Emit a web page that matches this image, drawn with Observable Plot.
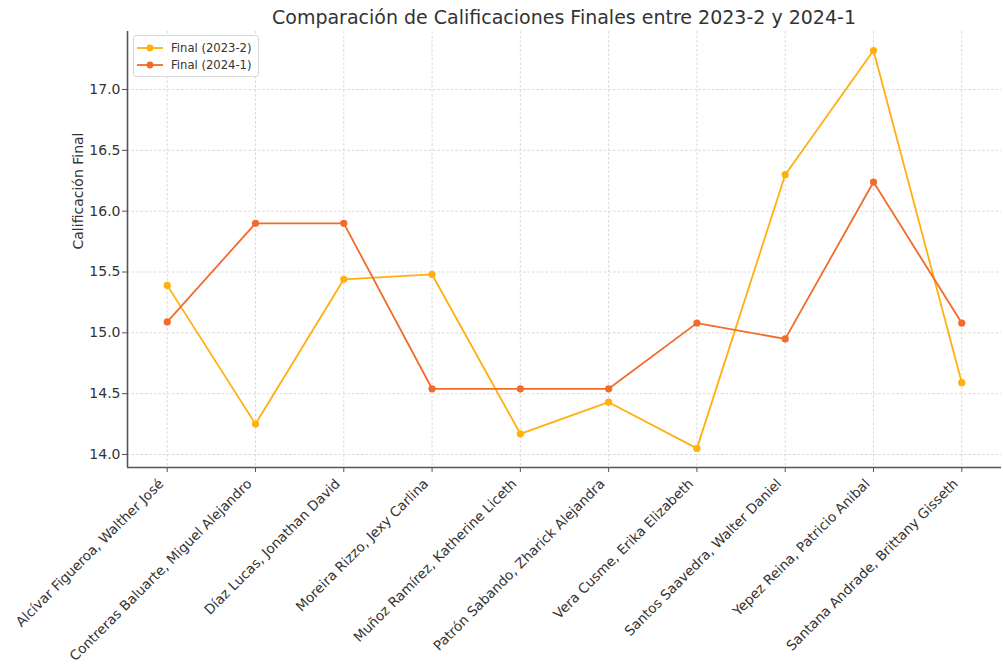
<!DOCTYPE html>
<html>
<head>
<meta charset="utf-8">
<script src="https://cdn.jsdelivr.net/npm/d3@7"></script>
<script src="https://cdn.jsdelivr.net/npm/@observablehq/plot@0.6"></script>
<style>
  body { margin: 0; background: #fff; font-family: "DejaVu Sans", sans-serif; }
  #wrap { position: relative; width: 1003px; height: 667px; overflow: hidden; }
  #title { height: 30px; line-height: 34px; padding-left: 127px; width: 874px; text-align: center; font-size: 19px; color: #333; white-space: nowrap; }
  #legend { position: absolute; left: 133px; top: 35px; width: 126px; height: 42px; border: 1px solid #d8d8d8; border-radius: 3px; background: rgba(255,255,255,0.85); font-size: 11.6px; color: #333; box-sizing: border-box; }
  .item { position: absolute; left: 3px; height: 16px; display: flex; align-items: center; }
  .item span { margin-left: 8px; }
</style>
</head>
<body>
<div id="wrap">
  <div id="title">Comparación de Calificaciones Finales entre 2023-2 y 2024-1</div>
  <div id="chart"></div>
  <div id="legend"></div>
</div>
<script>
const students = [
  "Alcívar Figueroa, Walther José",
  "Contreras Baluarte, Miguel Alejandro",
  "Díaz Lucas, Jonathan David",
  "Moreira Rizzo, Jexy Carlina",
  "Muñoz Ramírez, Katherine Liceth",
  "Patrón Sabando, Zharick Alejandra",
  "Vera Cusme, Erika Elizabeth",
  "Santos Saavedra, Walter Daniel",
  "Yepez Reina, Patricio Anibal",
  "Santana Andrade, Brittany Gisseth"
];
const final2023_2 = [15.39, 14.25, 15.44, 15.48, 14.17, 14.43, 14.05, 16.30, 17.32, 14.59];
const final2024_1 = [15.09, 15.90, 15.90, 14.54, 14.54, 14.54, 15.08, 14.95, 16.24, 15.08];
const seriesNames = ["Final (2023-2)", "Final (2024-1)"];
const seriesColors = ["#ffb00f", "#f26b2b"];
const yTicks = [14.0, 14.5, 15.0, 15.5, 16.0, 16.5, 17.0];

const rows = [];
[final2023_2, final2024_1].forEach((vals, s) => {
  vals.forEach((v, i) => rows.push({i, name: students[i], value: v, series: seriesNames[s]}));
});

const yDomain = [13.893, 17.477];
const xDomain = [-0.45, students.length - 1 + 0.45];
const idx = d3.range(students.length);

const chart = Plot.plot({
  width: 1003,
  height: 637,
  marginTop: 1,
  marginBottom: 200,
  marginLeft: 127,
  marginRight: 2,
  style: {fontFamily: "DejaVu Sans, sans-serif", color: "#333", background: "transparent"},
  x: {type: "linear", domain: xDomain, axis: null},
  y: {domain: yDomain, axis: null},
  color: {domain: seriesNames, range: seriesColors},
  marks: [
    Plot.gridY(yTicks, {stroke: "#cfcfcf", strokeOpacity: 1, strokeWidth: 0.8, strokeDasharray: "2.5,2"}),
    Plot.gridX(idx, {stroke: "#cfcfcf", strokeOpacity: 1, strokeWidth: 0.8, strokeDasharray: "2.5,2"}),
    Plot.axisY(yTicks, {tickSize: 5, tickPadding: 2, fontSize: 14, tickFormat: d3.format(".1f"), stroke: "#555", label: null}),
    Plot.axisX(idx, {tickSize: 5, tickFormat: () => "", stroke: "#555", label: null}),
    Plot.text(["Calificación Final"], {frameAnchor: "left", dx: -49, rotate: -90, fontSize: 14, fill: "#333"}),
    Plot.text(students, {x: (d, i) => i, y: () => yDomain[0], text: d => d, rotate: -45, textAnchor: "end", lineAnchor: "middle", dx: -6, dy: 14, fontSize: 13.6, fill: "#333"}),
    Plot.ruleX([xDomain[0]], {stroke: "#555", strokeWidth: 1.6}),
    Plot.ruleY([yDomain[0]], {stroke: "#555", strokeWidth: 1.6}),
    Plot.line(rows, {x: "i", y: "value", z: "series", stroke: "series", strokeWidth: 1.8}),
    Plot.dot(rows, {x: "i", y: "value", fill: "series", r: 3.6})
  ]
});
document.getElementById("chart").appendChild(chart);

const legend = document.getElementById("legend");
seriesNames.forEach((n, s) => {
  const item = document.createElement("div");
  item.className = "item";
  item.style.top = (4 + s * 17) + "px";
  item.innerHTML = `<svg width="26" height="10"><line x1="0" y1="5" x2="26" y2="5" stroke="${seriesColors[s]}" stroke-width="1.8"/><circle cx="13" cy="5" r="3.4" fill="${seriesColors[s]}"/></svg><span>${n}</span>`;
  legend.appendChild(item);
});
</script>
</body>
</html>
